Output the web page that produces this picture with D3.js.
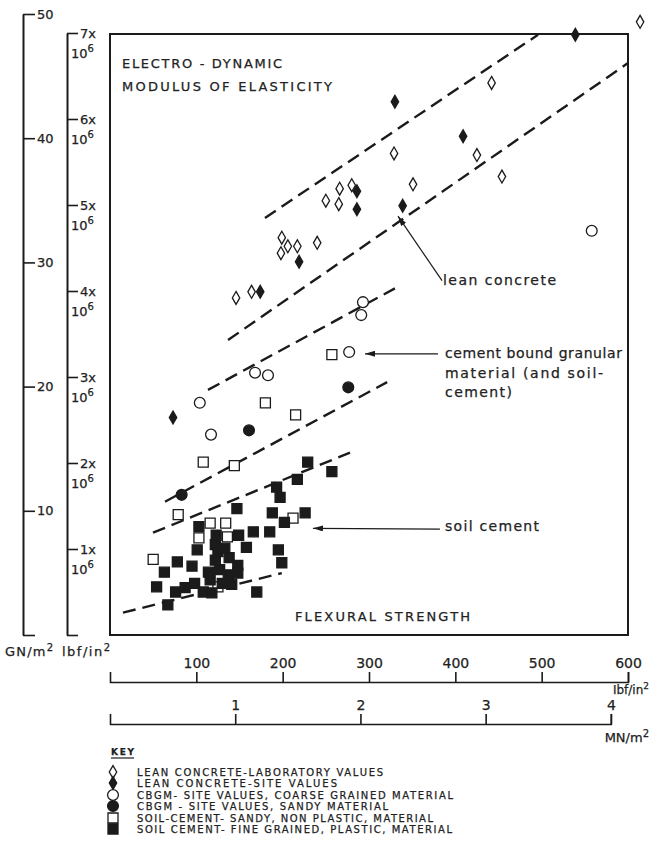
<!DOCTYPE html>
<html><head><meta charset="utf-8">
<script src="https://cdn.jsdelivr.net/npm/d3@7"></script>
<style>
body{margin:0;background:#fff}
svg{display:block}
text{font-family:"DejaVu Sans",sans-serif;fill:#222;stroke:#222;stroke-width:0.25}
</style>
</head><body>
<svg id="c" width="650" height="854"></svg>
<script>
// ---- data: [flexural strength lbf/in², dynamic modulus ×10^6 lbf/in²] ----
const leanLab = [[329,5.60],[351,5.24],[266,5.19],[280,5.23],[250,5.05],[265,5.01],[199,4.62],[206,4.52],[217,4.52],[198,4.44],[240,4.56],[146,3.92],[164,3.99],[442,6.42],[425,5.58],[454,5.33],[614,7.13]];
const leanSite = [[286,5.16],[286,4.95],[339,4.99],[219,4.34],[174,3.99],[330,6.20],[539,6.98],[73,2.53],[409,5.80]];
const cbgmCoarse = [[293,3.87],[291,3.72],[277,3.29],[168,3.05],[183,3.02],[104,2.70],[117,2.33],[558,4.70]];
const cbgmSandy = [[276,2.88],[161,2.38],[83,1.63]];
const soilSandy = [[257,3.26],[180,2.70],[215,2.56],[108,2.01],[144,1.97],[79,1.40],[50,0.88],[116,1.30],[134,1.30],[103,1.13],[136,1.14],[212,1.36],[125,0.56]];
const soilFine = [[229,2.01],[257,1.90],[217,1.81],[193,1.72],[197,1.60],[147,1.47],[188,1.42],[202,1.31],[226,1.42],[103,1.26],[123,1.16],[149,1.16],[166,1.20],[185,1.20],[158,1.02],[122,1.05],[101,0.99],[195,0.99],[199,0.84],[78,0.85],[95,0.80],[122,0.87],[138,0.90],[148,0.81],[63,0.73],[114,0.73],[127,0.76],[137,0.70],[148,0.72],[54,0.56],[76,0.50],[87,0.55],[98,0.60],[108,0.50],[118,0.49],[130,0.60],[141,0.59],[170,0.50],[67,0.35],[125,0.97],[116,0.64],[133,1.01]];
// dashed band limits [[x1,y1],[x2,y2]]
const leanUpper = [[179.5,4.85],[495.8,6.98]];
const leanLower = [[136.7,3.43],[600,6.65]];
const cbgmUpper = [[113.5,2.85],[330,4.03]];
const cbgmLower = [[63.7,1.55],[321,2.94]];
const soilUpper = [[49.8,1.19],[278,2.12]];
const soilLower = [[15,0.26],[199,0.72]];
// annotation arrows [tail, tip]
const arrowLean = [[384.6,4.12],[333.6,4.87]];
const arrowCbgm = [[379.9,3.27],[295.4,3.27]];
const arrowSoil = [[382.2,1.23],[235.1,1.24]];
// ticks
const gnTicks = [0,10,20,30,40,50];
const psiTicks = [0,1,2,3,4,5,6,7];
const flexTicks = [100,200,300,400,500,600];
const mnTicks = [1,2,3,4];
const keyLabels = ["LEAN CONCRETE-LABORATORY VALUES","LEAN CONCRETE-SITE  VALUES","CBGM- SITE VALUES, COARSE GRAINED MATERIAL","CBGM - SITE VALUES, SANDY MATERIAL","SOIL-CEMENT- SANDY, NON PLASTIC, MATERIAL","SOIL CEMENT- FINE GRAINED, PLASTIC, MATERIAL"];

const INK = "#1b1b1b";
const svg = d3.select("#c");
const x = d3.scaleLinear().domain([0,600]).range([110,628]);
const y = d3.scaleLinear().domain([0,7]).range([635,33]);
const yGN = d3.scaleLinear().domain([0,50]).range([635,14]);
const xMN = d3.scaleLinear().domain([0,4]).range([x(0), x(4*145.038)]);

// defs arrow
svg.append("defs").append("marker").attr("id","ah").attr("viewBox","0 0 10 6")
  .attr("refX",10).attr("refY",3).attr("markerWidth",10).attr("markerHeight",6)
  .attr("markerUnits","userSpaceOnUse").attr("orient","auto")
  .append("path").attr("d","M0,0L10,3L0,6Z").attr("fill",INK);

// plot frame
svg.append("rect").attr("x",x(0)).attr("y",y(7)+1).attr("width",x(600)-x(0)).attr("height",y(0)-y(7)-1)
  .attr("fill","none").attr("stroke",INK).attr("stroke-width",2);

function styleAxis(g, fs){
  g.select(".domain").attr("stroke",INK).attr("stroke-width",2);
  g.selectAll(".tick line").attr("stroke",INK).attr("stroke-width",1.6);
  g.selectAll(".tick text").attr("fill","#222").style("font-family","DejaVu Sans").style("font-size",fs+"px");
}

// GN/m2 axis
const gGN = svg.append("g").attr("transform","translate(23,0)")
  .call(d3.axisRight(yGN).tickValues(gnTicks).tickSize(12).tickSizeOuter(0).tickPadding(2).tickFormat(d=>d===0?"":d));
styleAxis(gGN,13);

// lbf/in2 axis
const gPsi = svg.append("g").attr("transform","translate(67,0)")
  .call(d3.axisRight(y).tickValues(psiTicks).tickSize(11).tickSizeOuter(0).tickFormat(""));
styleAxis(gPsi,12);
psiTicks.filter(d=>d>0).forEach(d=>{
  svg.append("text").attr("x",80).attr("y",y(d)+5).style("font-size","13px").text(d+"x");
  const t = svg.append("text").attr("x",71).attr("y",y(d)+25).style("font-size","13px");
  t.append("tspan").text("10");
  t.append("tspan").attr("dy",-6).style("font-size","10px").text("6");
});
svg.append("text").attr("x",5).attr("y",656).attr("textLength",48).style("font-size","13px")
  .call(t=>{t.append("tspan").text("GN/m");t.append("tspan").attr("dy",-5).style("font-size","10px").text("2");});
svg.append("text").attr("x",62).attr("y",656).attr("textLength",48).style("font-size","13px")
  .call(t=>{t.append("tspan").text("lbf/in");t.append("tspan").attr("dy",-5).style("font-size","10px").text("2");});

// bottom axes
const gF = svg.append("g").attr("transform","translate(0,682)")
  .call(d3.axisTop(x).tickValues(flexTicks).tickSize(10).tickSizeOuter(10).tickPadding(4).tickFormat(d3.format("d")));
styleAxis(gF,14);
gF.select(".domain").attr("stroke-width",1.6);
const gM = svg.append("g").attr("transform","translate(0,724)")
  .call(d3.axisTop(xMN).tickValues(mnTicks).tickSize(10).tickSizeOuter(10).tickPadding(4).tickFormat(d3.format("d")));
styleAxis(gM,14);
gM.select(".domain").attr("stroke-width",1.6);
svg.append("text").attr("x",649).attr("y",694).attr("text-anchor","end").style("font-size","12px")
  .call(t=>{t.append("tspan").text("Ibf/in");t.append("tspan").attr("dy",-5).style("font-size","9px").text("2");});
svg.append("text").attr("x",649).attr("y",742).attr("text-anchor","end").style("font-size","13px")
  .call(t=>{t.append("tspan").text("MN/m");t.append("tspan").attr("dy",-5).style("font-size","10px").text("2");});

// dashed band lines
const line = d3.line().x(d=>x(d[0])).y(d=>y(d[1]));
[leanUpper,leanLower,cbgmUpper,cbgmLower,soilUpper,soilLower].forEach(l=>{
  svg.append("path").attr("d",line(l)).attr("fill","none").attr("stroke",INK)
    .attr("stroke-width",2.4).attr("stroke-dasharray","13,7");
});

// arrows
[arrowLean,arrowCbgm,arrowSoil].forEach(a=>{
  svg.append("path").attr("d",line(a)).attr("fill","none").attr("stroke",INK)
    .attr("stroke-width",1.2).attr("marker-end","url(#ah)");
});

// markers
const sym = {
  diamond: d3.symbol().type(d3.symbolDiamond).size(48),
  circle: d3.symbol().type(d3.symbolCircle).size(92),
  square: d3.symbol().type(d3.symbolSquare).size(100)
};
const series = [
  {data:leanLab, s:"diamond", fill:"#fff"},
  {data:leanSite, s:"diamond", fill:INK},
  {data:cbgmCoarse, s:"circle", fill:"#fff"},
  {data:cbgmSandy, s:"circle", fill:INK},
  {data:soilSandy, s:"square", fill:"#fff"},
  {data:soilFine, s:"square", fill:INK}
];
series.forEach(ser=>{
  svg.append("g").selectAll("path").data(ser.data).join("path")
    .attr("transform",d=>`translate(${x(d[0])},${y(d[1])})`)
    .attr("d",sym[ser.s]()).attr("fill",ser.fill).attr("stroke",INK).attr("stroke-width",1.3);
});

// in-plot texts
const T = (tx,ty,s,len,fs)=>svg.append("text").attr("x",tx).attr("y",ty).attr("textLength",len)
  .attr("lengthAdjust","spacing").style("font-size",fs+"px").text(s);
T(122,68,"ELECTRO - DYNAMIC",160,13);
T(122,91,"MODULUS  OF  ELASTICITY",210,13);
T(295,621,"FLEXURAL  STRENGTH",175,13);
T(443,285,"lean concrete",113,14);
T(445,358,"cement bound granular",177,14);
T(445,378,"material (and soil-",158,14);
T(445,397,"cement)",67,14);
T(445,531,"soil cement",94,14);

// key
svg.append("text").attr("x",111).attr("y",755).attr("textLength",23).style("font-size","9px").style("font-weight","bold").text("KEY");
svg.append("line").attr("x1",111).attr("x2",134).attr("y1",758).attr("y2",758).attr("stroke",INK).attr("stroke-width",1.2);
const keyY = [772,783,795,806,818,829];
const keyLen = [246,200,316,251,296,315];
series.forEach((ser,i)=>{
  svg.append("path").attr("transform",`translate(113,${keyY[i]})`).attr("d",sym[ser.s]())
    .attr("fill",ser.fill).attr("stroke",INK).attr("stroke-width",1.3);
  svg.append("text").attr("x",137).attr("y",keyY[i]+4).attr("textLength",keyLen[i])
    .attr("lengthAdjust","spacing").style("font-size","10px").text(keyLabels[i]);
});
</script>
</body></html>
